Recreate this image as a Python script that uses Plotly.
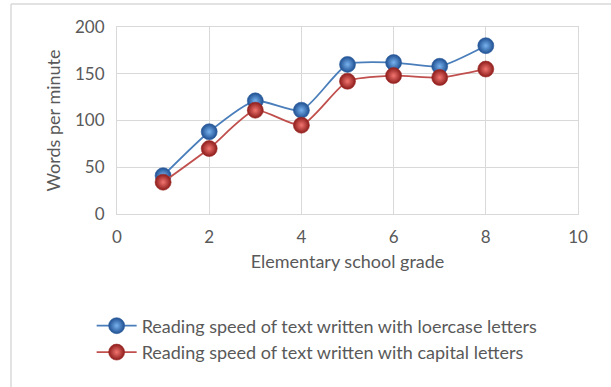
import plotly.graph_objects as go

# Reading speed by elementary school grade
grades = [1, 2, 3, 4, 5, 6, 7, 8]
lowercase_wpm = [41, 88, 121, 111, 160, 162, 158, 180]
capital_wpm = [34, 70, 111, 95, 142, 148, 146, 155]

name_lower = "Reading speed of text written with loercase letters"
name_capital = "Reading speed of text written with capital letters"

FONT = "Lato"
TEXT = "#595959"
GRID = "#d9d9d9"

fig = go.Figure()

# Spherical-looking markers: dark rim, light centre
fig.add_trace(go.Scatter(
    x=grades, y=lowercase_wpm, name=name_lower,
    mode="lines+markers",
    line=dict(color="#4a7ebb", width=1.8, shape="spline", smoothing=0.6),
    marker=dict(size=16, color="#1f4f91",
                gradient=dict(type="radial", color="#78b2ee"),
                line=dict(width=0.6, color="#2b5e9e")),
))
fig.add_trace(go.Scatter(
    x=grades, y=capital_wpm, name=name_capital,
    mode="lines+markers",
    line=dict(color="#c0504d", width=1.8, shape="spline", smoothing=0.6),
    marker=dict(size=16, color="#8c1c1a",
                gradient=dict(type="radial", color="#f27570"),
                line=dict(width=0.6, color="#9e2a27")),
))

# Outer chart frame: left and top edges
fig.add_shape(type="line", xref="paper", yref="paper",
              x0=-0.2299, x1=-0.2299, y0=1.123, y1=-0.93,
              line=dict(color="#d9d9d9", width=1.5), layer="below")
fig.add_shape(type="line", xref="paper", yref="paper",
              x0=-0.2299, x1=1.075, y0=1.123, y1=1.123,
              line=dict(color="#d9d9d9", width=1.5), layer="below")

fig.update_layout(
    width=611, height=387,
    margin=dict(l=117, r=33, t=27, b=173),
    paper_bgcolor="white", plot_bgcolor="white",
    font=dict(family=FONT, size=17, color=TEXT),
    showlegend=True,
    legend=dict(x=-0.055, y=-0.50, xanchor="left", yanchor="top",
                font=dict(family=FONT, size=18, color=TEXT),
                tracegroupgap=0, itemwidth=40, bgcolor="rgba(0,0,0,0)"),
    xaxis=dict(range=[0, 10], dtick=2, tick0=0,
               showgrid=True, gridcolor=GRID, gridwidth=1,
               zeroline=False, showline=True, linecolor=GRID, mirror=True,
               ticks="", ticklabelstandoff=8,
               tickfont=dict(family=FONT, size=17, color=TEXT),
               title=dict(text="Elementary school grade", standoff=8,
                          font=dict(family=FONT, size=18, color=TEXT))),
    yaxis=dict(range=[0, 200], dtick=50, tick0=0,
               showgrid=True, gridcolor=GRID, gridwidth=1,
               zeroline=False, showline=True, linecolor=GRID, mirror=True,
               ticks="", ticklabelstandoff=8,
               tickfont=dict(family=FONT, size=17, color=TEXT),
               title=dict(text="Words per minute", standoff=9,
                          font=dict(family=FONT, size=18, color=TEXT))),
)

fig.write_html("out.html")
